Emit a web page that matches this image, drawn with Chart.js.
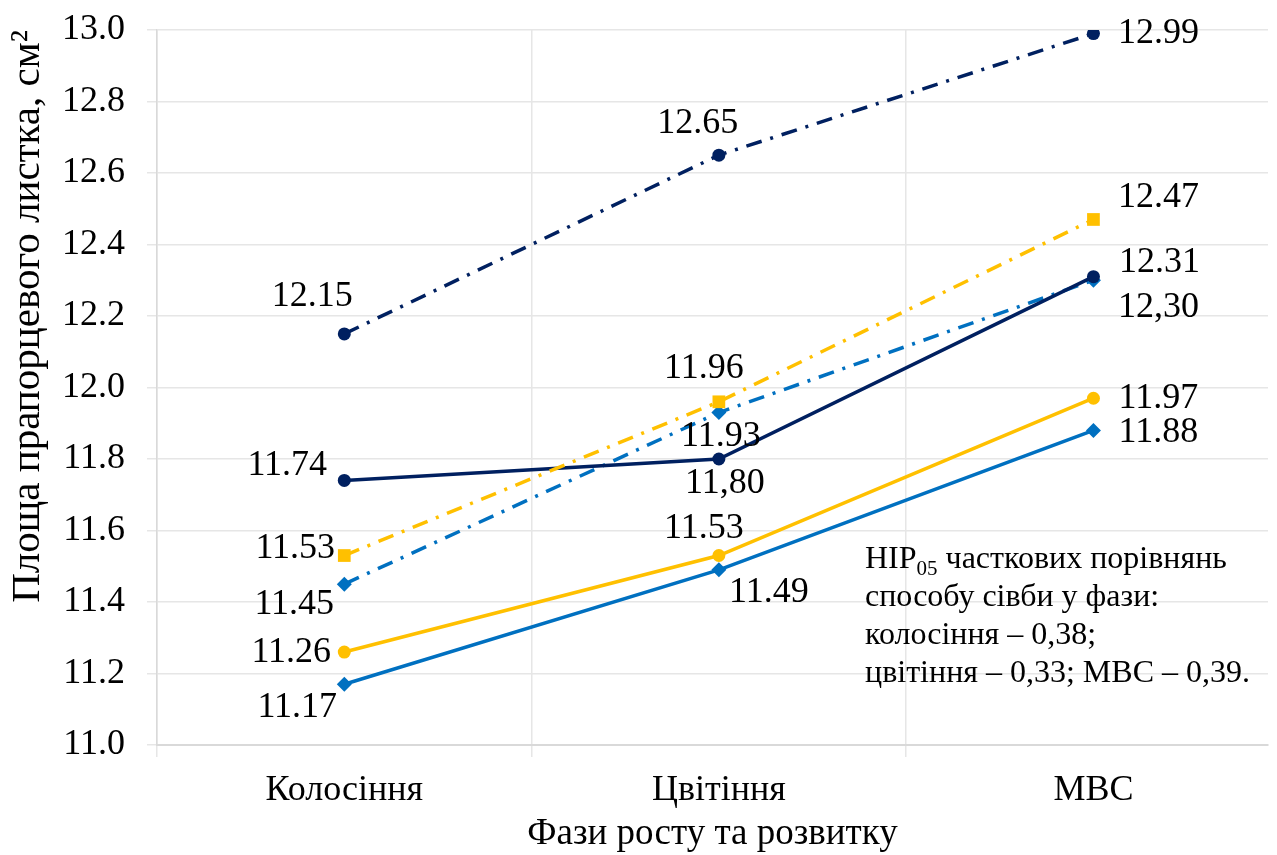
<!DOCTYPE html>
<html>
<head>
<meta charset="utf-8">
<script src="https://cdn.jsdelivr.net/npm/chart.js@4"></script>
<style>
  html, body { margin: 0; padding: 0; background: #fff; overflow: hidden; }
  #wrap { width: 1277px; height: 855px; }
</style>
</head>
<body>
<div id="wrap"><canvas id="myChart"></canvas></div>
<script>
// Flag leaf area by growth phase, six sowing variants

const phases = ["Колосіння", "Цвітіння", "МВС"];

const navyDashDot = [12.15, 12.65, 12.99];
const yellowDashDot = [11.53, 11.96, 12.47];
const navySolid = [11.74, 11.8, 12.31];
const blueDashDot = [11.45, 11.93, 12.3];
const yellowSolid = [11.26, 11.53, 11.97];
const blueSolid = [11.17, 11.49, 11.88];

// labels written with a comma in the original
const commaLabels = ["2-1", "3-2"];

const yMin = 11.0;
const yMax = 13.0;
const yStep = 0.2;

// the last category band runs a little past the right edge of the picture
const xMin = -0.5;
const xMax = 2.466;

const noteLines = [
  ["НІР", "05", " часткових порівнянь"],
  ["способу сівби у фази:"],
  ["колосіння – 0,38;"],
  ["цвітіння – 0,33; МВС – 0,39."],
];

const navy = "#002060";
const yellow = "#FFC000";
const blue = "#0070C0";
const gridColor = "#e6e6e6";
const dashDot = [16, 9, 3, 9];
const serif = "'Liberation Serif', 'Times New Roman', serif";

const ctx = document.querySelector("#myChart");

const makeSeries = (data, color, dashed, style, radius, offsets) => ({
  data: data.map((v, i) => ({ x: i, y: v })),
  borderColor: color,
  backgroundColor: color,
  borderWidth: 3.5,
  borderDash: dashed ? dashDot : [],
  pointStyle: style,
  pointRadius: radius,
  pointHoverRadius: radius,
  pointBorderWidth: 0,
  tension: 0,
  labelOffsets: offsets,
});

const datasets = [
  makeSeries(navyDashDot, navy, true, "circle", 6.5, [[-32, -37], [-21, -32], [65, 0]]),
  makeSeries(yellowDashDot, yellow, true, "rect", 9, [[-49, -7], [-15, -33], [65, -22]]),
  makeSeries(navySolid, navy, false, "circle", 6.5, [[-57, -15], [6, 25], [66, -14]]),
  makeSeries(blueDashDot, blue, true, "rectRot", 7.5, [[-50, 20], [2, 24], [65, 27]]),
  makeSeries(yellowSolid, yellow, false, "circle", 6.5, [[-53, 0], [-15, -27], [65, 0]]),
  makeSeries(blueSolid, blue, false, "rectRot", 7.5, [[-47, 23], [50, 23], [65, 2]]),
];

const valueLabels = {
  id: "valueLabels",
  afterDatasetsDraw(chart) {
    const c = chart.ctx;
    c.save();
    c.font = "36px " + serif;
    c.fillStyle = "#000";
    c.textAlign = "center";
    c.textBaseline = "middle";
    chart.data.datasets.forEach((ds, i) => {
      chart.getDatasetMeta(i).data.forEach((pt, j) => {
        let txt = ds.data[j].y.toFixed(2);
        if (commaLabels.includes(i + "-" + j)) txt = txt.replace(".", ",");
        const off = ds.labelOffsets[j];
        c.fillText(txt, pt.x + off[0], pt.y + off[1]);
      });
    });
    c.restore();
  },
};

const note = {
  id: "note",
  afterDatasetsDraw(chart) {
    const c = chart.ctx;
    const a = chart.chartArea;
    c.save();
    c.fillStyle = "#000";
    c.textBaseline = "alphabetic";
    let y = a.top + 538;
    noteLines.forEach((parts) => {
      let x = 865;
      parts.forEach((p, k) => {
        const sub = parts.length > 1 && k === 1;
        c.font = (sub ? "21px " : "32px ") + serif;
        c.fillText(p, x, sub ? y + 7 : y);
        x += c.measureText(p).width;
      });
      y += 38;
    });
    c.restore();
  },
};

// grid only on the band edges, labels only at the band centres
const bandEdge = (c) => (Number.isInteger(c.tick.value) ? "rgba(0,0,0,0)" : gridColor);

const config = {
  type: "line",
  data: { datasets: datasets },
  options: {
    responsive: true,
    maintainAspectRatio: false,
    animation: false,
    layout: { padding: 0 },
    plugins: { legend: { display: false }, tooltip: { enabled: false } },
    scales: {
      x: {
        type: "linear",
        min: xMin,
        max: xMax,
        afterBuildTicks: (scale) => {
          scale.ticks = [-0.5, 0, 0.5, 1, 1.5, 2].map((v) => ({ value: v }));
        },
        afterFit: (scale) => {
          scale.height = 110;
        },
        grid: { color: bandEdge, tickColor: bandEdge, lineWidth: 1.5, tickLength: 12 },
        border: { color: "#d9d9d9", width: 2 },
        ticks: {
          autoSkip: false,
          maxRotation: 0,
          color: "#000",
          font: { family: serif, size: 36, lineHeight: 1 },
          padding: 16,
          callback: (v) => (Number.isInteger(v) ? phases[v] : ""),
        },
        title: {
          display: true,
          text: "Фази росту та розвитку",
          color: "#000",
          font: { family: serif, size: 37, lineHeight: 1 },
          padding: { top: 0, bottom: 2 },
        },
      },
      y: {
        min: yMin,
        max: yMax,
        afterFit: (scale) => {
          scale.width = 157;
          scale.paddingTop = 30;
        },
        grid: { color: gridColor, lineWidth: 1.5, tickLength: 10 },
        border: { color: "#d9d9d9", width: 1.5 },
        ticks: {
          stepSize: yStep,
          color: "#000",
          font: { family: serif, size: 36 },
          padding: 22,
          callback: (v) => v.toFixed(1),
        },
        title: {
          display: true,
          text: "Площа прапорцевого листка, см²",
          align: "end",
          color: "#000",
          font: { family: serif, size: 41, lineHeight: 1 },
          padding: { top: 8, bottom: 8 },
        },
      },
    },
  },
  plugins: [valueLabels, note],
};

const chart = new Chart(ctx, config);
</script>
</body>
</html>
